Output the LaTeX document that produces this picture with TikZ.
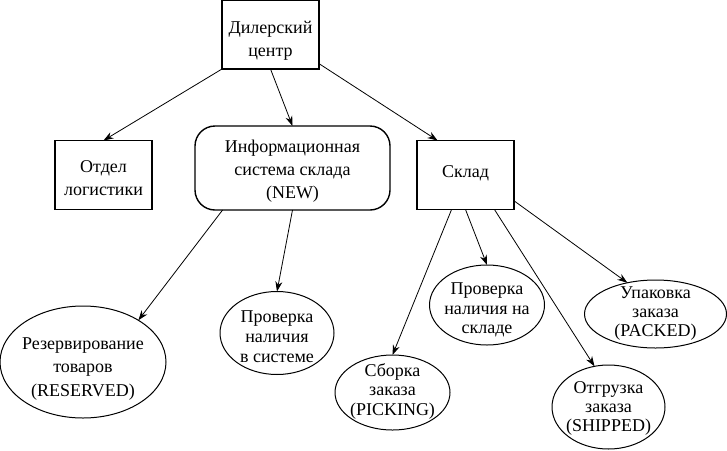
\documentclass[tikz,border=0pt]{standalone}
\usepackage{fontspec}
\setmainfont{Liberation Serif}
\usetikzlibrary{shapes.geometric,arrows.meta}
% #1 = downward shift (pt), #2 = line spacing (pt), #3 = text
\newcommand\ctext[3]{\makebox[0pt]{\raisebox{\dimexpr-0.25em-#1pt\relax}[0pt][0pt]{\fontsize{18}{#2}\selectfont\begin{tabular}{@{}c@{}}#3\end{tabular}}}}
\begin{document}
\begin{tikzpicture}[x=1pt,y=-1pt,
  every node/.style={font=\fontsize{18}{21}\selectfont, inner sep=0pt, outer sep=0pt},
  rbox/.style={draw, line width=1.1pt, rectangle, minimum width=97pt, minimum height=69pt},
  rrbox/.style={draw, line width=1.4pt, rounded corners=20pt, minimum width=195pt, minimum height=84pt},
  ell/.style={draw, line width=1pt, ellipse},
  conn/.style={-{Stealth[length=10pt,width=7pt]}, line width=0.8pt}]
\useasboundingbox (0,0) rectangle (727,450);
\node[rbox] (dil) at (270.5,34.5) {\ctext{6}{23}{Дилерский\\центр}};
\node[rbox] (otd) at (103.5,175) {\ctext{4}{23}{Отдел\\логистики}};
\node[rrbox] (info) at (292.5,168) {\ctext{3}{23}{Информационная\\система склада\\(NEW)}};
\node[rbox] (skl) at (465.5,175) {\ctext{-2}{21}{Склад}};
\node[ell, minimum width=166pt, minimum height=112pt] (rez) at (83,362) {\ctext{6}{23.5}{Резервирование\\товаров\\(RESERVED)}};
\node[ell, minimum width=114pt, minimum height=83pt] (prs) at (277,333) {\ctext{5}{20}{Проверка\\наличия\\в системе}};
\node[ell, minimum width=115pt, minimum height=75pt] (sbor) at (392.5,392.5) {\ctext{-1}{19.5}{Сборка\\заказа\\(PICKING)}};
\node[ell, minimum width=115pt, minimum height=80pt] (prsk) at (487,305) {\ctext{5}{19.5}{Проверка\\наличия на\\складе}};
\node[ell, minimum width=142pt, minimum height=68pt] (upak) at (655.5,314) {\ctext{0}{19}{Упаковка\\заказа\\(PACKED)}};
\node[ell, minimum width=113pt, minimum height=84pt] (otgr) at (608.5,407) {\ctext{2}{19}{Отгрузка\\заказа\\(SHIPPED)}};
\draw[conn] (dil.south west) -- (otd.north);
\draw[conn] (dil.south) -- (info.north);
\draw[conn] (dil.-31) -- (skl.129);
\draw[conn] (info.211) -- (rez.37);
\draw[conn] (info.south) -- (prs.north);
\draw[conn] (skl.248) -- (sbor.north);
\draw[conn] (skl.south) -- (prsk.north);
\draw[conn] (skl.-50) -- (otgr.109);
\draw[conn] (skl.-28) -- (upak.132);
\end{tikzpicture}
\end{document}
